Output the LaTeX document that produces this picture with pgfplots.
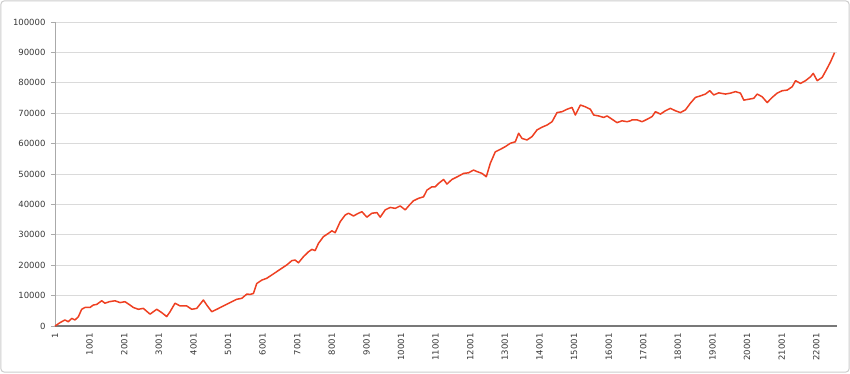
\documentclass[border=0pt]{standalone}
\usepackage{fontspec}
\setmainfont{DejaVu Sans}
\usepackage{pgfplots}
\pgfplotsset{compat=1.18}
\definecolor{linec}{RGB}{238,64,34}
\definecolor{gridc}{RGB}{218,218,218}
\definecolor{txtc}{RGB}{55,55,55}
\begin{document}
\begin{tikzpicture}
\useasboundingbox (-55pt,-47pt) rectangle (795pt,326pt);
\draw[color={rgb,255:red,205;green,205;blue,205}, line width=1pt, rounded corners=3pt] (-54pt,-46pt) rectangle (794pt,325pt);
\begin{axis}[
  at={(0,0)}, anchor=south west,
  scale only axis, width=782pt, height=304pt,
  xmin=1, xmax=22600, ymin=0, ymax=100000,
  axis x line*=bottom, axis y line*=left,
  x axis line style={draw={rgb,255:red,120;green,120;blue,120}, line width=1.3pt},
  y axis line style={draw={rgb,255:red,170;green,170;blue,170}, line width=0.8pt},
  xtick={1,1001,...,22001},
  ytick={0,10000,...,100000},
  scaled y ticks=false, scaled x ticks=false,
  major x tick style={draw=none},
  major y tick style={draw={rgb,255:red,170;green,170;blue,170}, line width=0.8pt},
  tick align=outside, major tick length=4pt,
  ymajorgrids, grid style={gridc, line width=0.8pt},
  /pgf/number format/fixed,
  /pgf/number format/1000 sep={},
  /pgf/number format/assume math mode=true,
  tick label style={font=\fontsize{8.5}{10}\selectfont, text=txtc},
  xticklabel style={rotate=90, anchor=east, xshift=0pt, yshift=0pt},
  yticklabel style={xshift=-2pt},
  clip=false,
]
\addplot[linec, line width=1.5pt, line join=round] coordinates {
(1,0) (145,1100) (289,2000) (385,1400) (483,2500) (578,2000) (674,3000) (772,5500)
(868,6100) (1012,6100) (1108,6900) (1206,7100) (1351,8300) (1446,7500) (1570,8000)
(1735,8300) (1880,7700) (2024,8000) (2169,6900) (2264,6100) (2409,5500) (2554,5800)
(2747,3900) (2941,5500) (3086,4400) (3230,3100) (3326,4700) (3470,7500) (3615,6600)
(3809,6600) (3953,5500) (4098,5800) (4289,8550) (4387,6900) (4532,4700) (4676,5500)
(4867,6600) (5061,7700) (5255,8800) (5399,9100) (5544,10500) (5639,10400)
(5735,10700) (5833,14000) (5978,15100) (6122,15700) (6267,16800) (6412,17900)
(6556,19000) (6701,20100) (6845,21500) (6941,21700) (7036,20800) (7181,22800)
(7325,24400) (7424,25200) (7519,24800) (7615,27200) (7759,29400) (7904,30500)
(8002,31300) (8098,30700) (8242,34300) (8387,36500) (8482,37100) (8627,36200)
(8771,37100) (8870,37600) (9014,35800) (9159,37100) (9304,37300) (9399,35800)
(9544,38200) (9688,39000) (9833,38700) (9977,39500) (10122,38200) (10267,40100)
(10362,41200) (10507,42000) (10651,42500) (10750,44700) (10894,45800)
(10990,45800) (11085,46900) (11230,48200) (11328,46700) (11472,48200) (11663,49300)
(11808,50200) (11953,50400) (12097,51300) (12196,50800) (12340,50200) (12465,49100)
(12580,53500) (12725,57300) (12869,58100) (13014,59000) (13159,60100) (13303,60600)
(13399,63400) (13497,61700) (13642,61200) (13786,62300) (13931,64500) (14075,65400)
(14220,66100) (14365,67200) (14509,70200) (14654,70500) (14798,71300) (14943,71900)
(15038,69400) (15183,72700) (15328,72100) (15472,71300) (15568,69400) (15712,69100)
(15857,68600) (15955,69100) (16100,68000) (16244,66900) (16389,67500) (16533,67200)
(16629,67500) (16678,67800) (16823,67800) (16967,67200) (17112,68000) (17257,68900)
(17352,70500) (17497,69700) (17641,70800) (17786,71600) (17930,70800) (18075,70200)
(18220,71100) (18364,73300) (18509,75200) (18653,75700) (18798,76300) (18922,77400)
(19038,76000) (19182,76700) (19376,76300) (19521,76600) (19666,77100) (19810,76600)
(19906,74300) (20050,74600) (20195,74900) (20293,76300) (20438,75400) (20582,73500)
(20727,75200) (20871,76600) (21016,77400) (21161,77600) (21305,78700) (21401,80700)
(21545,79800) (21690,80700) (21835,82000) (21913,83100) (22028,80700) (22173,81800)
(22317,84800) (22413,86900) (22529,89900)
};
\end{axis}
\end{tikzpicture}
\end{document}
